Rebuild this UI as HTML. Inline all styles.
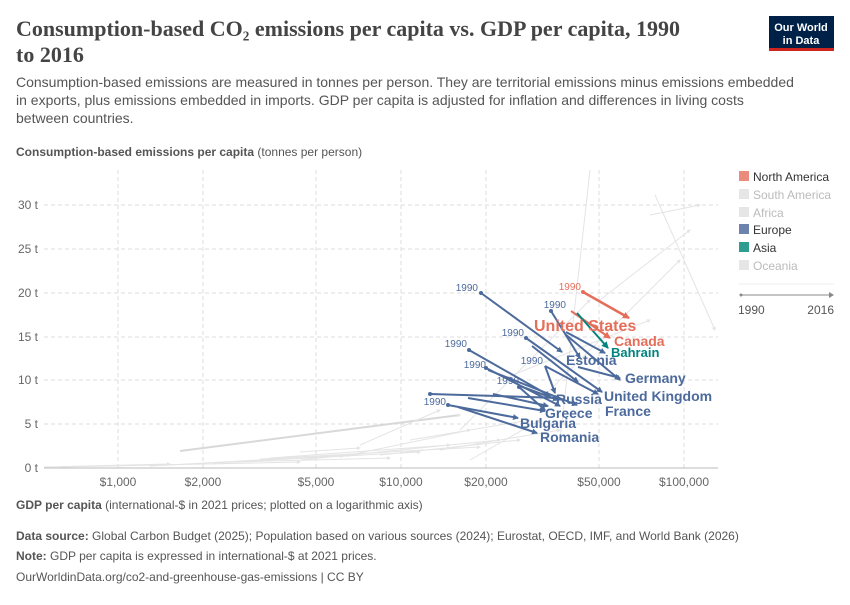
<!DOCTYPE html>
<html><head><meta charset="utf-8"><style>
body{margin:0;width:850px;height:600px;background:#fff;font-family:"Liberation Sans",sans-serif;overflow:hidden}
svg text{font-family:"Liberation Sans",sans-serif}
svg text.ttl{font-family:"Liberation Serif",serif}
</style></head><body>
<svg width="850" height="600" viewBox="0 0 850 600" xmlns="http://www.w3.org/2000/svg">
<defs>
<marker id="ab" markerWidth="6" markerHeight="6" refX="5" refY="3" orient="auto" markerUnits="userSpaceOnUse"><path d="M0,0 L6,3 L0,6 z" fill="#4C6A9C"/></marker>
<marker id="ar" markerWidth="7" markerHeight="7" refX="6" refY="3.5" orient="auto" markerUnits="userSpaceOnUse"><path d="M0,0 L7,3.5 L0,7 z" fill="#E56E5A"/></marker>
<marker id="at" markerWidth="7" markerHeight="7" refX="6" refY="3.5" orient="auto" markerUnits="userSpaceOnUse"><path d="M0,0 L7,3.5 L0,7 z" fill="#00847E"/></marker>
<marker id="ag" markerWidth="4" markerHeight="4" refX="3" refY="2" orient="auto" markerUnits="userSpaceOnUse"><path d="M0,0 L4,2 L0,4 z" fill="#e4e4e4"/></marker>
</defs>
<text class="ttl" x="16" y="36" font-size="22" font-weight="bold" fill="#444">Consumption-based CO₂ emissions per capita vs. GDP per capita, 1990</text>
<text class="ttl" x="16" y="62" font-size="22" font-weight="bold" fill="#444">to 2016</text>
<rect x="769" y="16" width="65" height="34" fill="#002147"/>
<rect x="769" y="48" width="65" height="3" fill="#CE261E"/>
<text x="801" y="31" font-size="11" fill="#fff" text-anchor="middle" font-weight="bold">Our World</text>
<text x="801" y="44" font-size="11" fill="#fff" text-anchor="middle" font-weight="bold">in Data</text>
<g font-size="14" fill="#555">
<text x="16" y="87">Consumption-based emissions are measured in tonnes per person. They are territorial emissions minus emissions embedded</text>
<text x="16" y="105">in exports, plus emissions embedded in imports. GDP per capita is adjusted for inflation and differences in living costs</text>
<text x="16" y="123">between countries.</text>
</g>
<text x="16" y="156" font-size="12" fill="#555"><tspan font-weight="bold">Consumption-based emissions per capita</tspan> (tonnes per person)</text>
<g stroke="#ddd" stroke-dasharray="4,3" stroke-width="1">
<line x1="44" y1="205" x2="718" y2="205"/><line x1="44" y1="249" x2="718" y2="249"/>
<line x1="44" y1="293" x2="718" y2="293"/><line x1="44" y1="337" x2="718" y2="337"/>
<line x1="44" y1="380" x2="718" y2="380"/><line x1="44" y1="424" x2="718" y2="424"/>
<line x1="118" y1="170" x2="118" y2="468"/><line x1="203" y1="170" x2="203" y2="468"/>
<line x1="316" y1="170" x2="316" y2="468"/><line x1="401" y1="170" x2="401" y2="468"/>
<line x1="486" y1="170" x2="486" y2="468"/><line x1="599" y1="170" x2="599" y2="468"/>
<line x1="684" y1="170" x2="684" y2="468"/>
</g>
<line x1="44" y1="468" x2="718" y2="468" stroke="#bbb"/>
<g font-size="12" fill="#666" text-anchor="end">
<text x="38" y="209">30 t</text><text x="38" y="253">25 t</text><text x="38" y="297">20 t</text>
<text x="38" y="341">15 t</text><text x="38" y="384">10 t</text><text x="38" y="428">5 t</text><text x="38" y="472">0 t</text>
</g>
<g font-size="12" fill="#666" text-anchor="middle">
<text x="118" y="486">$1,000</text><text x="203" y="486">$2,000</text><text x="316" y="486">$5,000</text>
<text x="401" y="486">$10,000</text><text x="486" y="486">$20,000</text><text x="599" y="486">$50,000</text><text x="684" y="486">$100,000</text>
</g>
<text x="16" y="509" font-size="12" fill="#555"><tspan font-weight="bold">GDP per capita</tspan> (international-$ in 2021 prices; plotted on a logarithmic axis)</text>
<g stroke="#e4e4e4" stroke-width="1" fill="none" marker-end="url(#ag)">
<line x1="180" y1="451" x2="460" y2="415" stroke-width="2" stroke="#d8d8d8"/>
<line x1="44" y1="467" x2="170" y2="464"/><line x1="60" y1="467" x2="300" y2="462"/>
<line x1="214" y1="463" x2="420" y2="452"/><line x1="260" y1="459" x2="480" y2="447"/>
<line x1="300" y1="460" x2="500" y2="440"/><line x1="340" y1="457" x2="470" y2="430"/>
<line x1="380" y1="455" x2="520" y2="440"/><line x1="410" y1="440" x2="530" y2="420"/>
<line x1="440" y1="450" x2="560" y2="430"/><line x1="360" y1="445" x2="440" y2="410"/>
<line x1="460" y1="430" x2="590" y2="300"/><line x1="540" y1="400" x2="680" y2="260"/>
<line x1="590" y1="170" x2="560" y2="440"/><line x1="650" y1="215" x2="700" y2="205"/>
<line x1="655" y1="195" x2="715" y2="330"/><line x1="600" y1="300" x2="690" y2="230"/>
<line x1="500" y1="380" x2="650" y2="320"/><line x1="470" y1="460" x2="540" y2="420"/>
<line x1="230" y1="462" x2="390" y2="458"/><line x1="300" y1="452" x2="360" y2="448"/>
<line x1="150" y1="466" x2="350" y2="455"/><line x1="270" y1="458" x2="450" y2="445"/>
</g>
<g stroke="#4C6A9C" stroke-width="2" fill="none" marker-end="url(#ab)">
<line x1="481" y1="293" x2="562" y2="352"/>
<line x1="551" y1="311" x2="580" y2="358"/>
<line x1="566" y1="332" x2="605" y2="353"/>
<line x1="565" y1="334" x2="620" y2="380"/>
<line x1="526" y1="338" x2="602" y2="392"/>
<line x1="532" y1="346" x2="578" y2="382"/>
<line x1="469" y1="350" x2="550" y2="396"/>
<line x1="486" y1="368" x2="560" y2="406"/>
<line x1="488" y1="370" x2="577" y2="405"/>
<line x1="545" y1="366" x2="555" y2="393"/>
<line x1="545" y1="366" x2="598" y2="394"/>
<line x1="578" y1="367" x2="620" y2="378"/>
<line x1="519" y1="387" x2="545" y2="410"/>
<line x1="520" y1="386" x2="558" y2="400"/>
<line x1="430" y1="394" x2="560" y2="398"/>
<line x1="468" y1="398" x2="545" y2="411"/>
<line x1="493" y1="394" x2="548" y2="406"/>
<line x1="448" y1="405" x2="518" y2="418"/>
<line x1="458" y1="407" x2="537" y2="433"/>
</g>
<g fill="#4C6A9C"><circle cx="481" cy="293" r="2"/><circle cx="551" cy="311" r="2"/><circle cx="526" cy="338" r="2"/><circle cx="469" cy="350" r="2"/><circle cx="486" cy="368" r="2"/><circle cx="519" cy="387" r="2"/><circle cx="430" cy="394" r="2"/><circle cx="448" cy="405" r="2"/></g>
<line x1="583" y1="292" x2="629" y2="318" stroke="#E56E5A" stroke-width="2.5" marker-end="url(#ar)"/>
<circle cx="583" cy="292" r="2" fill="#E56E5A"/>
<line x1="571" y1="311" x2="610" y2="338" stroke="#E56E5A" stroke-width="2" marker-end="url(#ar)"/>
<line x1="577" y1="313" x2="608" y2="348" stroke="#00847E" stroke-width="2" marker-end="url(#at)"/>
<g font-size="10" fill="#4C6A9C" text-anchor="end">
<text x="478" y="291">1990</text><text x="566" y="308">1990</text><text x="524" y="336">1990</text>
<text x="467" y="347">1990</text><text x="486" y="368">1990</text><text x="543" y="364">1990</text>
<text x="519" y="384">1990</text><text x="446" y="405">1990</text>
</g>
<text x="581" y="290" font-size="10" fill="#E56E5A" text-anchor="end">1990</text>
<text x="534" y="331" font-size="16" font-weight="bold" fill="#E56E5A">United States</text>
<text x="614" y="346" font-size="14" font-weight="bold" fill="#E56E5A">Canada</text>
<text x="611" y="357" font-size="13" font-weight="bold" fill="#00847E">Bahrain</text>
<g font-size="14" font-weight="bold" fill="#4C6A9C">
<text x="566" y="365">Estonia</text><text x="625" y="383">Germany</text>
<text x="604" y="401">United Kingdom</text><text x="556" y="404">Russia</text>
<text x="605" y="416">France</text><text x="545" y="418">Greece</text>
<text x="520" y="428">Bulgaria</text><text x="540" y="442">Romania</text>
</g>
<g font-size="12">
<rect x="739" y="171" width="10" height="10" fill="#E56E5A" opacity="0.8"/><text x="753" y="181" fill="#333">North America</text>
<rect x="739" y="189" width="10" height="10" fill="#e6e6e6"/><text x="753" y="199" fill="#bbb">South America</text>
<rect x="739" y="207" width="10" height="10" fill="#e6e6e6"/><text x="753" y="217" fill="#bbb">Africa</text>
<rect x="739" y="224" width="10" height="10" fill="#6D83AE"/><text x="753" y="234" fill="#333">Europe</text>
<rect x="739" y="242" width="10" height="10" fill="#2F9C90"/><text x="753" y="252" fill="#333">Asia</text>
<rect x="739" y="260" width="10" height="10" fill="#e6e6e6"/><text x="753" y="270" fill="#bbb">Oceania</text>
</g>
<line x1="739" y1="284" x2="834" y2="284" stroke="#eee"/>
<line x1="741" y1="295" x2="830" y2="295" stroke="#888"/>
<circle cx="741" cy="295" r="1.5" fill="#888"/><path d="M829,292 L834,295 L829,298z" fill="#888"/>
<text x="738" y="314" font-size="12" fill="#555">1990</text><text x="834" y="314" font-size="12" fill="#555" text-anchor="end">2016</text>
<g font-size="12" fill="#555">
<text x="16" y="540"><tspan font-weight="bold">Data source:</tspan> Global Carbon Budget (2025); Population based on various sources (2024); Eurostat, OECD, IMF, and World Bank (2026)</text>
<text x="16" y="560"><tspan font-weight="bold">Note:</tspan> GDP per capita is expressed in international-$ at 2021 prices.</text>
<text x="16" y="581">OurWorldinData.org/co2-and-greenhouse-gas-emissions | CC BY</text>
</g>
</svg>
</body></html>
